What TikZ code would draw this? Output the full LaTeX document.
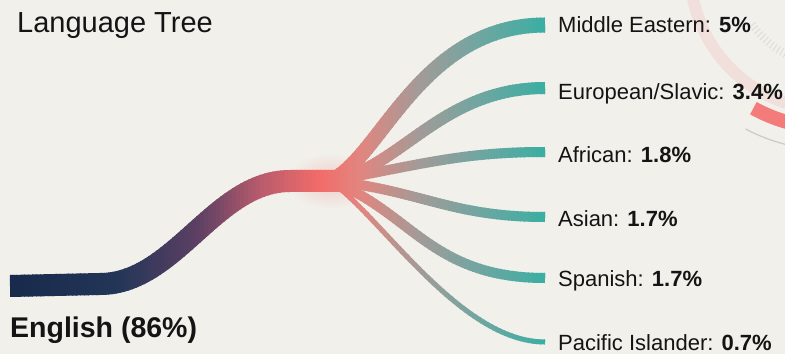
\documentclass[tikz,border=0pt]{standalone}
\usepackage{fontspec}
\setmainfont{Liberation Sans}
\usepackage{tikz}
\usetikzlibrary{calc}

\definecolor{bgpaper}{HTML}{F1F0EB}
\definecolor{inkblack}{HTML}{141414}
\definecolor{navy}{HTML}{17294B}
\definecolor{navylight}{HTML}{243658}
\definecolor{plum}{HTML}{5E4063}
\definecolor{rose}{HTML}{B85B6C}
\definecolor{coral}{HTML}{F26C6A}
\definecolor{blush}{HTML}{E3857F}
\definecolor{ash}{HTML}{A29B98}
\definecolor{seagray}{HTML}{6FA6A1}
\definecolor{tealend}{HTML}{2FB0A3}

% all strokes of the tree, drawn in the colour of the current strip
\newcommand{\treepaths}{%
\draw[trunk] (root) -- (bend) .. controls +(75,0) and +(-75,0) .. (neck) -- ++(50,0);
\draw[branch, line width=15] (hub) .. controls +(50,21) and +(-125,0) .. (meEnd);
\draw[branch, line width=12] (hub) .. controls +(70,11) and +(-105,0) .. (euEnd);
\draw[branch, line width=10] (hub) .. controls +(90,16) and +(-85,0) .. (afEnd);
\draw[branch, line width=10] (hub) .. controls +(90,-9) and +(-95,0) .. (asEnd);
\draw[branch, line width=10] (hub) .. controls +(80,-29) and +(-115,0) .. (spEnd);
\draw[branch, line width=5] (hub) .. controls +(50,-34) and +(-85,0) .. (piEnd);
}

\begin{document}
\begin{tikzpicture}[x=1pt,y=1pt]
\tikzset{trunk/.style = {draw=stripcol, line width=22}}
\tikzset{branch/.style = {draw=stripcol}}
\tikzset{entry/.style = {anchor=base west, inner sep=0pt, text=inkblack, font=\fontsize{22}{26}\selectfont}}
\tikzset{heading/.style = {anchor=base west, inner sep=0pt, text=inkblack, font=\fontsize{29}{34}\selectfont}}
\tikzset{rootname/.style = {anchor=base west, inner sep=0pt, text=inkblack, font=\fontsize{28.5}{34}\selectfont\bfseries}}
\tikzset{ringfaint/.style = {draw=coral, opacity=0.12, line width=12}}
\tikzset{ringbar/.style = {draw=coral!90!white, line width=14}}
\tikzset{ringthin/.style = {draw=black!30, line width=1.2, opacity=0.6}}
\tikzset{ringticks/.style = {draw=black!35, line width=8, opacity=0.25, dash pattern=on 1pt off 3pt}}

\fill[bgpaper] (0,0) rectangle (785,354);
\useasboundingbox (0,0) rectangle (785,354);

%ring in the corner
\coordinate (ring) at (830,384);
\draw[ringfaint] ($(ring)+(192:140)$) arc[start angle=192, end angle=252, radius=140];
\draw[ringticks] ($(ring)+(215:95)$) arc[start angle=215, end angle=250, radius=95];
\draw[ringbar] ($(ring)+(241:158)$) arc[start angle=241, end angle=262, radius=158];
\draw[ringthin] ($(ring)+(242:180)$) arc[start angle=242, end angle=265, radius=180];

%points of the tree
\coordinate (root) at (10,68);
\coordinate (bend) at (100,70);
\coordinate (neck) at (290,173);
\coordinate (hub) at (330,173);
\coordinate (meEnd) at (545,329);
\coordinate (euEnd) at (545,266);
\coordinate (afEnd) at (545,202);
\coordinate (asEnd) at (545,137);
\coordinate (spEnd) at (545,76);
\coordinate (piEnd) at (545,12);

\shade[inner color=coral!28!bgpaper, outer color=bgpaper] (hub) ellipse [x radius=44, y radius=28];

%tree, strip by strip
\foreach \xa/\xb/\ca/\cb in {0/120/navy/navylight, 120/200/navylight/plum, 200/260/plum/rose, 260/320/rose/coral, 320/360/coral/blush, 360/420/blush/ash, 420/480/ash/seagray, 480/560/seagray/tealend}{
  \pgfmathtruncatemacro{\nstrip}{(\xb-\xa)/4-1}
  \foreach \k in {0,...,\nstrip}{
    \pgfmathsetmacro{\xs}{\xa+4*\k}
    \pgfmathtruncatemacro{\mixp}{100-100*(4*\k+2)/(\xb-\xa)}
    \colorlet{stripcol}{\ca!\mixp!\cb}
    \begin{scope}
      \clip (\xs,0) rectangle ++(5,354);
      \treepaths
    \end{scope}
  }
}

%labels
\node[heading] (title) at (17,321) {Language Tree};
\node[rootname] (english) at (10,17) {English (86\%)};
\node[entry] (me) at (558,321) {Middle Eastern: \textbf{5\%}};
\node[entry] (eu) at (558,254) {European/Slavic: \textbf{3.4\%}};
\node[entry] (af) at (558,191) {African: \textbf{1.8\%}};
\node[entry] (as) at (558,128) {Asian: \textbf{1.7\%}};
\node[entry] (sp) at (558,68) {Spanish: \textbf{1.7\%}};
\node[entry] (pi) at (558,4) {Pacific Islander: \textbf{0.7\%}};
\end{tikzpicture}
\end{document}
